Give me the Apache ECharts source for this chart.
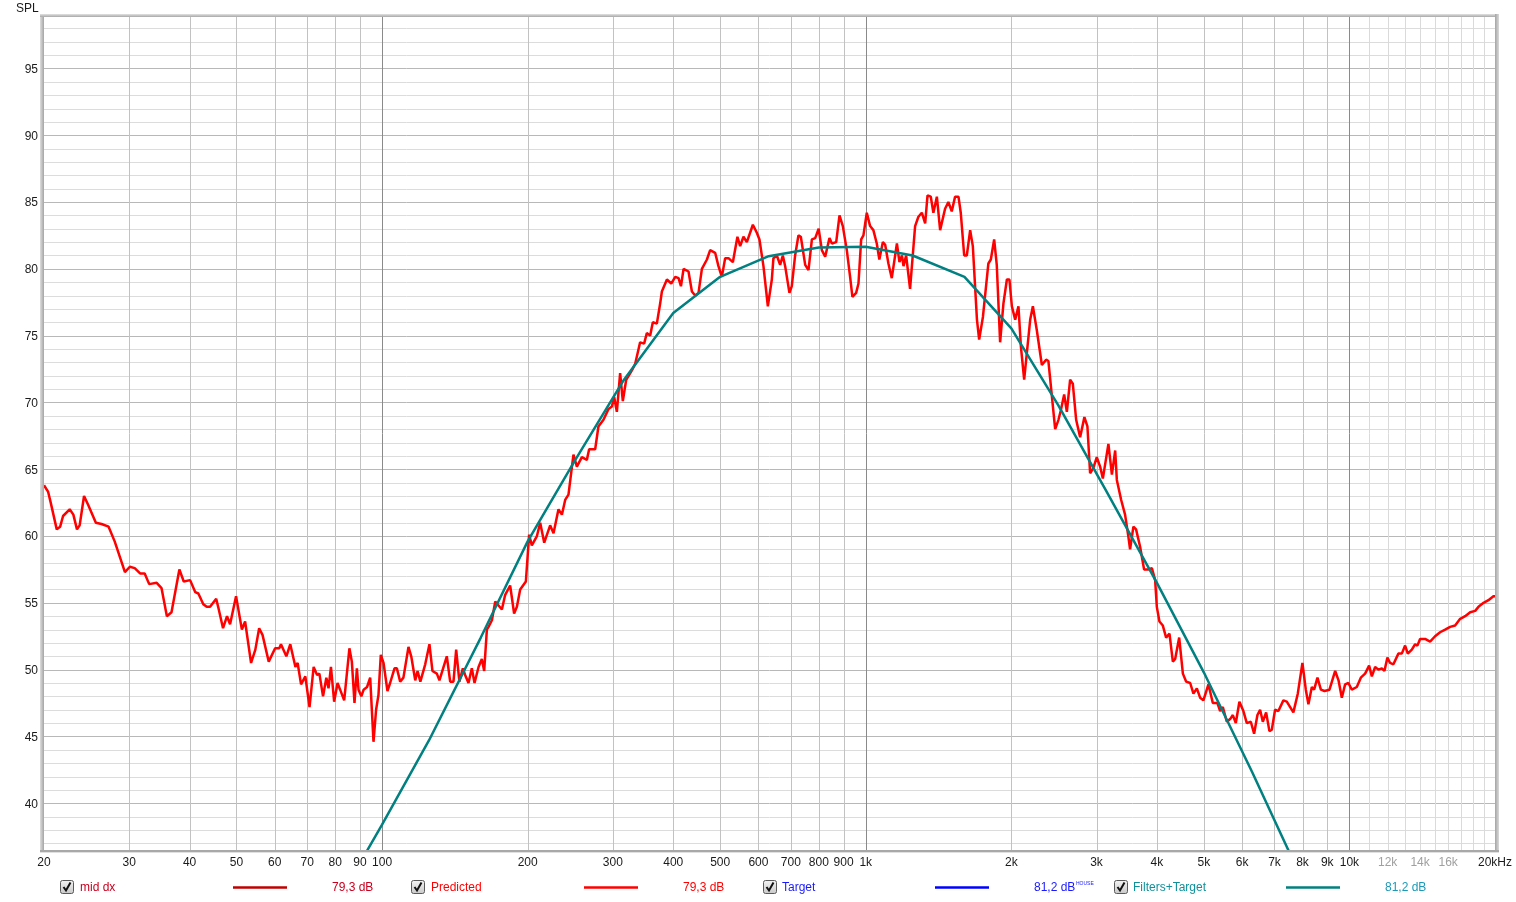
<!DOCTYPE html>
<html>
<head>
<meta charset="utf-8">
<script src="https://cdn.jsdelivr.net/npm/echarts@6/dist/echarts.min.js"></script>
<style>
html,body{margin:0;padding:0;background:#ffffff;}
#chart{width:1516px;height:902px;}
</style>
</head>
<body>
<div id="chart"></div>
<script>
// ---------------- DATA ----------------
const freqHz = [
  20, 20.4, 20.65, 21.25, 21.6, 21.9, 22.6, 23.0, 23.4, 23.7,
  24.2, 24.7, 25.6, 26.3, 27.2, 28.0, 29.4, 30.1, 30.8, 31.6,
  32.3, 33.0, 34.2, 35.0, 35.9, 36.7, 38.1, 38.9, 40.1, 41.1,
  41.7, 42.7, 43.4, 44.1, 45.4, 45.9, 46.9, 47.8, 48.5, 49.9,
  51.3, 52.1, 53.6, 54.7, 55.7, 56.6, 58.3, 60.1, 61.3, 61.8,
  63.4, 64.6, 66.2, 66.9, 68.0, 69.4, 70.8, 71.3, 72.2, 73.4,
  74.2, 75.5, 76.7, 77.5, 78.4, 79.6, 80.9, 81.9, 83.5, 85.6,
  86.6, 87.7, 88.7, 89.4, 90.6, 91.6, 93.1, 94.5, 96.0, 97.2,
  98.3, 99.4, 100.7, 102.6, 103.9, 106.1, 107.3, 109.0, 110.7, 113.4,
  114.9, 117.1, 118.4, 120.0, 122.8, 125.3, 127.1, 129.8, 131.4, 136.1,
  138.3, 140.5, 142.3, 144.5, 146.9, 148.5, 150.9, 153.3, 155.3, 158.3,
  160.8, 162.6, 164.7, 166.0, 168.7, 171.4, 176.9, 179.7, 184.0, 187.5,
  190.0, 193.0, 198.3, 201.4, 204.0, 209.0, 212.3, 216.4, 222.6, 226.2,
  231.6, 235.4, 239.1, 242.9, 248.7, 252.8, 258.9, 265.1, 268.0, 275.8,
  280.1, 286.9, 293.8, 298.6, 301.9, 305.8, 310.6, 314.6, 319.7, 328.5,
  333.7, 341.6, 348.2, 352.7, 358.3, 362.9, 369.9, 375.8, 378.9, 388.1,
  396.2, 403.8, 410.2, 414.9, 420.1, 430.1, 437.1, 444.0, 451.1, 458.4,
  469.5, 476.8, 488.3, 496.0, 504.1, 512.1, 520.2, 531.2, 542.9, 550.0,
  558.7, 567.8, 584.3, 595.4, 602.9, 614.5, 627.5, 639.5, 644.4, 655.0,
  665.3, 673.9, 681.4, 695.4, 703.3, 714.5, 725.8, 734.2, 749.6, 761.5,
  773.9, 786.2, 799.2, 811.5, 824.4, 841.4, 851.2, 868.8, 882.6, 896.6,
  913.8, 928.3, 938.5, 955.4, 966.0, 978.5, 989.1, 1005, 1021, 1037,
  1054, 1067, 1085, 1097, 1114, 1132, 1160, 1174, 1188, 1197,
  1212, 1235, 1265, 1285, 1306, 1327, 1342, 1363, 1380, 1403,
  1425, 1459, 1482, 1506, 1530, 1555, 1572, 1598, 1618, 1644,
  1665, 1698, 1716, 1747, 1793, 1814, 1843, 1866, 1896, 1926,
  1958, 1982, 2005, 2037, 2069, 2093, 2126, 2188, 2216, 2258,
  2313, 2360, 2386, 2464, 2503, 2531, 2572, 2605, 2646, 2680,
  2723, 2775, 2832, 2873, 2910, 2956, 3004, 3052, 3092, 3175,
  3228, 3279, 3305, 3374, 3437, 3487, 3520, 3576, 3622, 3692,
  3763, 3842, 3905, 3966, 3998, 4048, 4114, 4179, 4246, 4315,
  4363, 4447, 4526, 4598, 4686, 4759, 4837, 4913, 4991, 5111,
  5219, 5335, 5404, 5474, 5579, 5668, 5741, 5823, 5923, 6037,
  6136, 6254, 6353, 6454, 6537, 6622, 6727, 6833, 6912, 7020,
  7131, 7303, 7422, 7659, 7821, 7996, 8126, 8228, 8362, 8454,
  8589, 8730, 8881, 9095, 9345, 9495, 9645, 9798, 9952, 10115,
  10359, 10558, 10776, 10984, 11127, 11303, 11482, 11669, 11814, 11983,
  12138, 12330, 12626, 12833, 13037, 13205, 13460, 13673, 13823, 14000,
  14337, 14683, 15036, 15398, 15773, 16153, 16542, 16944, 17352, 17770,
  18198, 18486, 18940, 19384, 19850, 20000
];
const splPredicted = [
  63.8, 63.3, 62.5, 60.5, 60.7, 61.5, 62.0, 61.6, 60.5, 60.8,
  63.0, 62.3, 61.0, 60.9, 60.7, 59.6, 57.3, 57.7, 57.6, 57.2,
  57.2, 56.4, 56.5, 56.1, 54.0, 54.3, 57.5, 56.6, 56.7, 55.8,
  55.7, 54.9, 54.7, 54.7, 55.3, 54.6, 53.1, 54.0, 53.4, 55.5,
  53.0, 53.6, 50.5, 51.5, 53.1, 52.6, 50.6, 51.6, 51.6, 51.9,
  51.0, 51.9, 50.2, 50.5, 48.9, 49.5, 47.2, 47.1, 50.2, 49.6,
  49.7, 48.0, 49.4, 48.6, 50.2, 47.6, 49.0, 48.5, 47.7, 51.6,
  50.6, 47.5, 50.1, 48.5, 48.0, 48.5, 48.7, 49.4, 44.6, 47.0,
  48.1, 51.1, 50.5, 48.4, 49.0, 50.1, 50.1, 49.1, 49.4, 51.7,
  51.0, 49.2, 49.9, 49.1, 50.4, 51.9, 49.9, 49.7, 49.2, 51.0,
  49.1, 49.1, 51.5, 49.1, 50.1, 49.6, 49.0, 50.1, 49.0, 50.2,
  50.8, 49.9, 53.0, 53.2, 53.7, 55.1, 54.5, 55.6, 56.3, 54.2,
  54.7, 56.0, 56.6, 60.1, 59.3, 60.0, 61.0, 59.5, 60.8, 60.2,
  62.0, 61.6, 62.7, 63.1, 66.1, 65.2, 65.9, 65.7, 66.5, 66.5,
  68.2, 68.7, 69.5, 69.7, 70.4, 69.3, 72.2, 70.1, 71.7, 72.4,
  72.9, 74.5, 74.4, 75.2, 75.0, 76.0, 75.9, 77.4, 78.3, 79.2,
  78.9, 79.4, 79.3, 78.7, 80.0, 79.8, 78.3, 78.0, 78.2, 80.0,
  80.7, 81.4, 81.2, 80.2, 79.4, 80.8, 80.8, 80.5, 82.4, 81.7,
  82.4, 82.0, 83.3, 82.7, 82.2, 80.2, 77.2, 79.2, 80.8, 81.0,
  80.3, 81.0, 80.2, 78.2, 78.7, 81.0, 82.5, 82.4, 80.3, 79.9,
  82.2, 82.3, 83.0, 81.4, 80.9, 82.3, 81.9, 82.0, 84.0, 83.2,
  81.4, 79.4, 77.9, 78.2, 78.9, 82.2, 82.5, 84.2, 83.2, 82.9,
  81.9, 80.7, 82.0, 81.8, 80.4, 79.3, 81.9, 80.5, 81.0, 80.2,
  81.0, 78.5, 83.2, 83.9, 84.2, 83.4, 85.5, 85.4, 84.2, 85.4,
  82.9, 84.5, 85.0, 84.3, 85.4, 85.4, 84.2, 81.0, 81.0, 82.9,
  81.7, 76.2, 74.7, 76.4, 80.4, 80.7, 82.2, 80.3, 74.5, 77.4,
  79.2, 79.2, 77.2, 76.2, 77.2, 74.2, 71.7, 76.2, 77.2, 75.4,
  72.8, 73.2, 73.1, 68.0, 68.7, 69.4, 70.6, 69.3, 71.7, 71.4,
  68.7, 67.4, 68.9, 68.2, 64.7, 65.1, 65.9, 65.2, 64.3, 66.9,
  64.6, 66.4, 64.2, 62.7, 61.6, 60.1, 59.0, 60.7, 60.5, 59.2,
  57.5, 57.5, 57.6, 56.7, 54.7, 53.6, 53.3, 52.4, 52.7, 50.6,
  50.8, 52.4, 49.7, 49.1, 49.0, 48.2, 48.6, 47.9, 47.7, 48.9,
  47.5, 47.5, 46.9, 47.2, 46.1, 46.3, 46.6, 46.0, 47.6, 46.9,
  46.0, 46.1, 45.2, 46.6, 47.0, 46.1, 46.8, 45.4, 45.5, 47.0,
  46.9, 47.7, 47.6, 46.8, 48.2, 50.5, 48.5, 47.4, 48.7, 48.5,
  49.4, 48.5, 48.4, 48.5, 49.9, 49.2, 47.9, 48.9, 49.0, 48.5,
  48.7, 49.4, 49.7, 50.3, 49.5, 50.2, 50.0, 50.1, 49.9, 50.9,
  50.5, 50.4, 51.2, 51.2, 51.8, 51.2, 51.5, 51.9, 51.8, 52.3,
  52.3, 52.1, 52.5, 52.8, 53.0, 53.2, 53.3, 53.8, 54.0, 54.3,
  54.4, 54.7, 55.0, 55.2, 55.5, 55.5
];
// Filters+Target curve (1/3-octave points)
const targetFreqHz = [80, 100, 125, 160, 200, 250, 315, 400, 500, 630, 800, 1000, 1250, 1600, 2000, 2500, 3150, 4000, 5000, 6300, 8000];
const targetSpl    = [32.3, 38.4, 44.7, 52.4, 59.6, 65.6, 71.6, 76.7, 79.4, 80.95, 81.6, 81.65, 81.0, 79.4, 75.55, 69.8, 63.3, 56.5, 49.8, 42.3, 34.2];

// Axis ticks
const xTickFreqs  = [20, 30, 40, 50, 60, 70, 80, 90, 100, 200, 300, 400, 500, 600, 700, 800, 900, 1000, 2000, 3000, 4000, 5000, 6000, 7000, 8000, 9000, 10000, 12000, 14000, 16000, 20000];
const xTickLabels = ['20','30','40','50','60','70','80','90','100','200','300','400','500','600','700','800','900','1k','2k','3k','4k','5k','6k','7k','8k','9k','10k','12k','14k','16k','20kHz'];
const xDimLabels  = ['12k','14k','16k'];
const xGridFreqs  = [30, 40, 50, 60, 70, 80, 90, 100, 200, 300, 400, 500, 600, 700, 800, 900, 1000, 2000, 3000, 4000, 5000, 6000, 7000, 8000, 9000, 10000, 11000, 12000, 13000, 14000, 15000, 16000, 17000, 18000, 19000];
const yTickValues = [40, 45, 50, 55, 60, 65, 70, 75, 80, 85, 90, 95];
const yGridValues = [37,38,39,40,41,42,43,44,45,46,47,48,49,50,51,52,53,54,55,56,57,58,59,60,61,62,63,64,65,66,67,68,69,70,71,72,73,74,75,76,77,78,79,80,81,82,83,84,85,86,87,88,89,90,91,92,93,94,95,96,97,98];

const X_MIN = 20, X_MAX = 20000, Y_MIN = 36.5, Y_MAX = 98.85;

// ---------------- CHART ----------------
const chart = echarts.init(document.getElementById('chart'), null, {renderer: 'canvas'});
const FONT = '12px "Liberation Sans", Arial, sans-serif';

const predictedData = freqHz.map((f, i) => [f, splPredicted[i]]);
const targetData = targetFreqHz.map((f, i) => [f, targetSpl[i]]);

function vGridColor(f) {
  if (f === 100 || f === 1000 || f === 10000) return '#8a8a8a';
  if (f > 10000) return '#dadada';
  return '#c2c2c2';
}
function hGridColor(v) {
  return (v % 5 === 0) ? '#b8b8b8' : '#dcdcdc';
}

const option = {
  animation: false,
  backgroundColor: '#ffffff',
  grid: {left: 44, right: 21, top: 17, bottom: 52, show: false},
  xAxis: {
    type: 'log', logBase: 10, min: X_MIN, max: X_MAX,
    axisLine: {show: false}, axisTick: {show: false}, axisLabel: {show: false}, splitLine: {show: false}
  },
  yAxis: {
    type: 'value', min: Y_MIN, max: Y_MAX,
    axisLine: {show: false}, axisTick: {show: false}, axisLabel: {show: false}, splitLine: {show: false}
  },
  series: [
    {
      type: 'custom', name: 'hgrid', z: 1, silent: true,
      data: yGridValues.map(v => [X_MIN, v]),
      renderItem: function (params, api) {
        const v = api.value(1);
        const a = api.coord([X_MIN, v]);
        const b = api.coord([X_MAX, v]);
        const y = Math.round(a[1]) + 0.5;
        const children = [{
          type: 'line', shape: {x1: a[0], y1: y, x2: b[0], y2: y},
          style: {stroke: hGridColor(v), lineWidth: 1}
        }];
        if (yTickValues.indexOf(v) >= 0) {
          children.push({
            type: 'text', x: 38, y: a[1] + 1,
            style: {text: String(v), fill: '#1a1a1a', font: FONT, align: 'right', verticalAlign: 'middle'}
          });
        }
        return {type: 'group', children: children};
      }
    },
    {
      type: 'custom', name: 'vgrid', z: 1, silent: true,
      data: xGridFreqs.map(f => [f, Y_MIN]),
      renderItem: function (params, api) {
        const f = api.value(0);
        const a = api.coord([f, Y_MAX]);
        const b = api.coord([f, Y_MIN]);
        const x = Math.round(a[0]) + 0.5;
        return {
          type: 'line', shape: {x1: x, y1: a[1], x2: x, y2: b[1]},
          style: {stroke: vGridColor(f), lineWidth: 1}
        };
      }
    },
    {
      type: 'custom', name: 'xlabels', z: 1, silent: true,
      data: xTickFreqs.map(f => [f, Y_MIN]),
      renderItem: function (params, api) {
        const f = api.value(0);
        const p = api.coord([f, Y_MIN]);
        const label = xTickLabels[params.dataIndex];
        const dim = xDimLabels.indexOf(label) >= 0;
        return {
          type: 'text', x: p[0], y: 863,
          style: {text: label, fill: dim ? '#a0a0a0' : '#1a1a1a', font: FONT, align: 'center', verticalAlign: 'middle'}
        };
      }
    },
    {
      type: 'line', name: 'Predicted', z: 3,
      data: predictedData, showSymbol: false, symbol: 'none',
      lineStyle: {color: '#ff0000', width: 2.5}, itemStyle: {color: '#ff0000'}
    },
    {
      type: 'line', name: 'Filters+Target', z: 4,
      data: targetData, showSymbol: false, symbol: 'none',
      lineStyle: {color: '#008080', width: 2.5}, itemStyle: {color: '#008080'}
    }
  ],
  graphic: buildChrome()
};

function checkbox(x, y) {
  return [
    {type: 'rect', shape: {x: x + 0.5, y: y + 0.5, width: 13, height: 13, r: 2},
     style: {fill: new echarts.graphic.LinearGradient(0, 0, 0, 1, [{offset: 0, color: '#f4f4f4'}, {offset: 1, color: '#c8c8c8'}]), stroke: '#5a5a5a', lineWidth: 1}},
    {type: 'polyline', shape: {points: [[x + 3.5, y + 7], [x + 6, y + 10.5], [x + 10.5, y + 2.5]]},
     style: {stroke: '#111', lineWidth: 2, fill: null}}
  ];
}
function legendText(x, text, color) {
  return {type: 'text', x: x, y: 888, style: {text: text, fill: color, font: FONT, align: 'left', verticalAlign: 'middle'}};
}
function legendLine(x1, x2, color) {
  return {type: 'line', shape: {x1: x1, y1: 887.5, x2: x2, y2: 887.5}, style: {stroke: color, lineWidth: 2.5}};
}

function buildChrome() {
  const els = [];
  // frame bevels
  els.push({type: 'rect', z: 10, shape: {x: 40, y: 14, width: 4, height: 837},
    style: {fill: new echarts.graphic.LinearGradient(0, 0, 1, 0, [{offset: 0, color: '#dedede'}, {offset: 1, color: '#a4a4a4'}])}});
  els.push({type: 'rect', z: 10, shape: {x: 40, y: 14, width: 1459, height: 3},
    style: {fill: new echarts.graphic.LinearGradient(0, 0, 0, 1, [{offset: 0, color: '#e2e2e2'}, {offset: 1, color: '#a8a8a8'}])}});
  els.push({type: 'rect', z: 10, shape: {x: 1495, y: 14, width: 4, height: 837},
    style: {fill: new echarts.graphic.LinearGradient(0, 0, 1, 0, [{offset: 0, color: '#a4a4a4'}, {offset: 1, color: '#dadada'}])}});
  els.push({type: 'rect', z: 10, shape: {x: 40, y: 850, width: 1459, height: 2},
    style: {fill: '#a8a8a8'}});
  els.push({type: 'rect', z: 10, shape: {x: 40, y: 852, width: 1459, height: 1},
    style: {fill: '#e0e0e0'}});
  // axis title
  els.push({type: 'text', x: 16, y: 8.5, style: {text: 'SPL', fill: '#1a1a1a', font: FONT, align: 'left', verticalAlign: 'middle'}});
  // legend
  checkbox(60, 880).forEach(e => els.push(e));
  els.push(legendText(80, 'mid dx', '#c8001e'));
  els.push(legendLine(233, 287, '#c00000'));
  els.push(legendText(332, '79,3 dB', '#c8001e'));

  checkbox(411, 880).forEach(e => els.push(e));
  els.push(legendText(431, 'Predicted', '#ff0000'));
  els.push(legendLine(584, 638, '#ff0000'));
  els.push(legendText(683, '79,3 dB', '#ff0000'));

  checkbox(763, 880).forEach(e => els.push(e));
  els.push(legendText(782, 'Target', '#1a1aff'));
  els.push(legendLine(935, 989, '#0000ff'));
  els.push(legendText(1034, '81,2 dB', '#1a1aff'));
  els.push({type: 'text', x: 1076, y: 884, style: {text: 'HOUSE', fill: '#1a1aff', font: '5px "Liberation Sans", Arial, sans-serif', align: 'left', verticalAlign: 'middle'}});

  checkbox(1114, 880).forEach(e => els.push(e));
  els.push(legendText(1133, 'Filters+Target', '#10909a'));
  els.push(legendLine(1286, 1340, '#008080'));
  els.push(legendText(1385, '81,2 dB', '#1a9ab8'));
  return els;
}

chart.setOption(option);
</script>
</body>
</html>
